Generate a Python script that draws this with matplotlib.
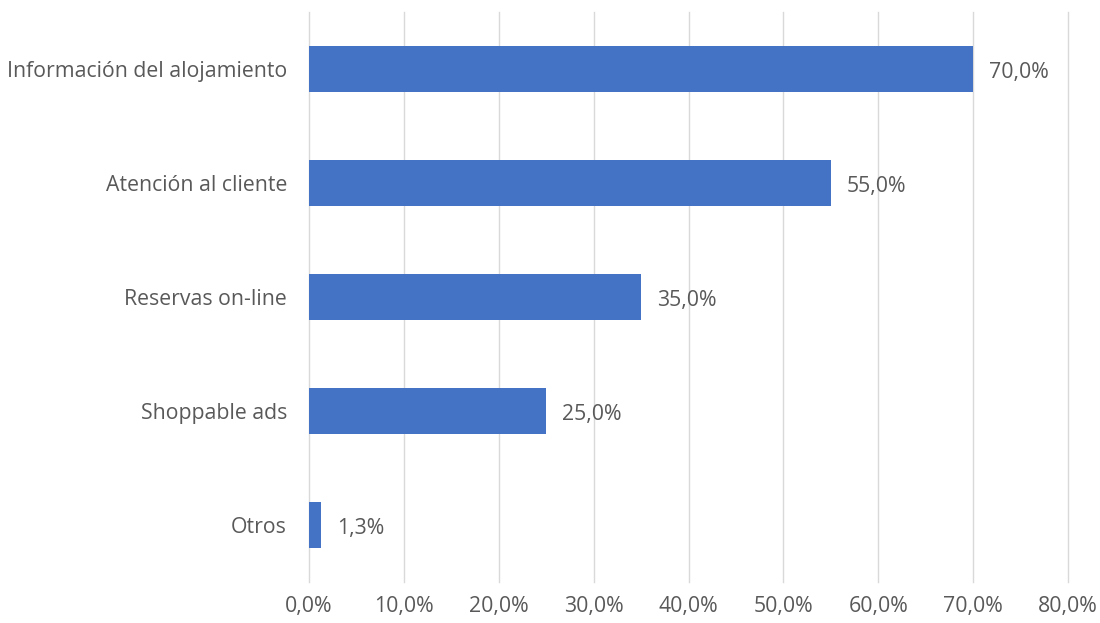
import matplotlib.pyplot as plt
from matplotlib.ticker import FuncFormatter

categories = [
    "Información del alojamiento",
    "Atención al cliente",
    "Reservas on-line",
    "Shoppable ads",
    "Otros",
]
values = [70.0, 55.0, 35.0, 25.0, 1.3]
x_ticks = [0, 10, 20, 30, 40, 50, 60, 70, 80]

plt.rcParams["font.family"] = ["Open Sans", "DejaVu Sans"]
TEXT = "#595959"
FS = 15.3

fig = plt.figure(figsize=(11, 6.23), dpi=100)
ax = fig.add_axes([0.281, 0.066, 0.690, 0.915])

pos = list(range(len(categories)))
ax.barh(pos, values, height=0.40, color="#4472C4", zorder=3)

# etiquetas de valor a la derecha de cada barra, con coma decimal
for p, v in zip(pos, values):
    ax.annotate(f"{v:.1f}%".replace(".", ","), (v, p), xytext=(11.5, -2.5),
                textcoords="offset points", va="center", ha="left",
                fontsize=FS, color=TEXT)

ax.set_ylim(len(categories) - 0.5, -0.5)
ax.set_yticks(pos)
ax.set_yticklabels(categories)
ax.set_xlim(0, 80)
ax.set_xticks(x_ticks)
ax.xaxis.set_major_formatter(FuncFormatter(lambda x, _: f"{x:.1f}%".replace(".", ",")))

ax.grid(axis="x", color="#D9D9D9", linewidth=1.0, zorder=0)
for line in ax.get_xgridlines():
    line.set_clip_on(False)
for s in ax.spines.values():
    s.set_visible(False)
ax.tick_params(axis="both", length=0, labelsize=FS, colors=TEXT)
ax.tick_params(axis="y", pad=16)
ax.tick_params(axis="x", pad=10)

fig.savefig("out.png", dpi=100)
